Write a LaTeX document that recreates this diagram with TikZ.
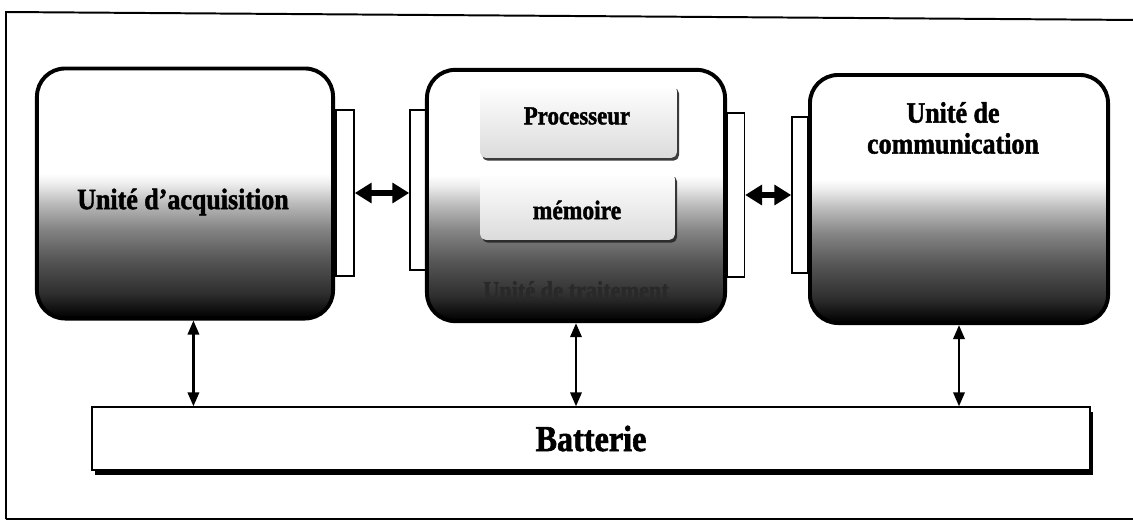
\documentclass[tikz,border=0pt]{standalone}
\usepackage{fontspec}
\setmainfont{Liberation Serif}
\newfontfamily\heavyfont[BoldFeatures={FakeBold=1.6, FakeStretch=0.88}]{Liberation Serif}
\usetikzlibrary{arrows.meta, shadows}

% white top, dark bottom of the three units
\pgfdeclareverticalshading{unitfade}{100bp}{color(0bp)=(black); color(25bp)=(black); color(26.5bp)=(black!95); color(30bp)=(black!82); color(37bp)=(black!66); color(43bp)=(black!48); color(48bp)=(black!27); color(52bp)=(black!7); color(54bp)=(white); color(100bp)=(white)}

\begin{document}
\begin{tikzpicture}[x=0.025cm, y=-0.025cm,
    unitbox/.style={draw, line width=2.8pt, rounded corners=20pt, shade, shading=unitfade, inner sep=0pt},
    port/.style={draw, line width=1.1pt, fill=white, inner sep=0pt},
    subbox/.style={rounded corners=4pt, top color=white, bottom color=black!14, inner sep=0pt,
      drop shadow={shadow xshift=1.5pt, shadow yshift=-2pt, fill=black!85, opacity=0.9}},
    lbl/.style={font=\heavyfont\bfseries\fontsize{#1}{#1}\selectfont, align=center},
    bus/.style={{Triangle[length=12pt,width=14pt]}-{Triangle[length=12pt,width=14pt]}, line width=4.2pt},
    feed/.style={{Triangle[length=10pt,width=8pt]}-{Triangle[length=10pt,width=8pt]}, line width=1.9pt}]
  \useasboundingbox (0,0) rectangle (1133,521);

  % frame
  \draw[line width=1.4pt] (6,519) -- (6,12) -- (1140,20);
  \draw[line width=1.4pt] (6,519) -- (1140,519);

  % ports
  \node[port, minimum width=0.45cm, minimum height=4.15cm] (acqport) at (345,193) {};
  \node[port, minimum width=0.4cm, minimum height=4cm] (trtportL) at (418,190) {};
  \node[port, minimum width=0.42cm, minimum height=4.1cm] (trtportR) at (736,195) {};
  \node[port, minimum width=0.4cm, minimum height=3.9cm] (comport) at (800,195) {};

  % units
  \node[unitbox, minimum width=7.4cm, minimum height=6.25cm] (acq) at (185,193.5) {};
  \node[unitbox, minimum width=7.45cm, minimum height=6.28cm] (trt) at (576,195.5) {};
  \node[unitbox, minimum width=7.45cm, minimum height=6.2cm] (com) at (959,199) {};

  \node[lbl=21] (acqtext) at (183,202) {Unité d’acquisition};
  \node[lbl=21] (comtext) at (953,128) {Unité de\\[1pt]communication};
  \node[lbl=18, text=black!84] (trttext) at (576,290) {Unité de traitement};

  % processor and memory
  \node[subbox, minimum width=4.92cm, minimum height=1.82cm] (proc) at (578.5,121.5) {};
  \node[subbox, minimum width=4.87cm, minimum height=1.67cm] (mem) at (577.5,206.5) {};
  \node[lbl=18.5] (proctext) at (577,116) {Processeur};
  \node[lbl=19] (memtext) at (577,210) {mémoire};

  % battery
  \node[draw, line width=1pt, fill=white, minimum width=24.95cm, minimum height=1.57cm,
    drop shadow={shadow xshift=2pt, shadow yshift=-3.5pt, fill=black, opacity=1},
    lbl=26] (batt) at (591,438.5) {Batterie};

  % links
  \draw[bus] (acqport.east) -- (acqport.east -| trtportL.west);
  \draw[bus] (trtportR.east) -- (trtportR.east -| comport.west);
  \draw[feed] ([xshift=6pt]acq.south) -- ([xshift=6pt]acq.south |- batt.north);
  \draw[feed] (trt.south) -- (trt.south |- batt.north);
  \draw[feed] (com.south) -- (com.south |- batt.north);
\end{tikzpicture}
\end{document}
